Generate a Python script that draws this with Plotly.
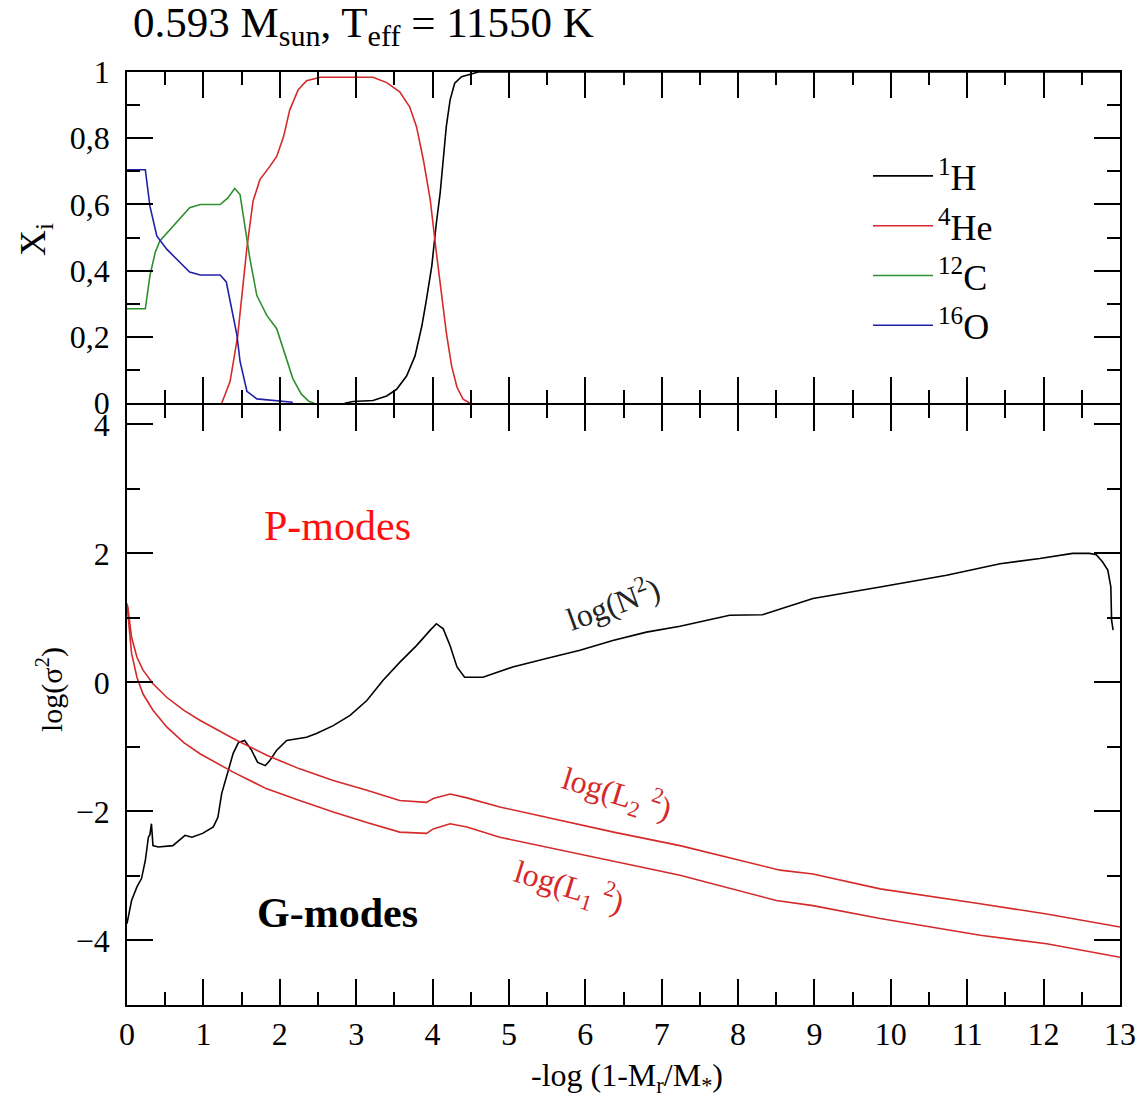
import plotly.graph_objects as go

# ---------------- data (top panel: abundances) ----------------
H_x = [2.85, 2.96, 3.22, 3.40, 3.53, 3.66, 3.77, 3.86, 3.92, 3.99, 4.05, 4.10, 4.14, 4.18, 4.23, 4.29, 4.38, 4.49, 4.6, 13.0]
H_y = [0.0, 0.005, 0.008, 0.022, 0.042, 0.082, 0.142, 0.233, 0.313, 0.414, 0.544, 0.635, 0.735, 0.835, 0.916, 0.966, 0.986, 0.993, 1.0, 1.0]

He_x = [1.24, 1.35, 1.45, 1.52, 1.57, 1.65, 1.74, 1.87, 1.96, 2.05, 2.13, 2.24, 2.35, 2.53, 3.22, 3.40, 3.57, 3.70, 3.79, 3.88, 3.97, 4.05, 4.12, 4.18, 4.25, 4.32, 4.40, 4.49]
He_y = [0.0, 0.066, 0.205, 0.355, 0.47, 0.61, 0.675, 0.715, 0.745, 0.805, 0.885, 0.946, 0.974, 0.984, 0.984, 0.968, 0.94, 0.895, 0.835, 0.735, 0.614, 0.455, 0.334, 0.214, 0.112, 0.048, 0.012, 0.0]

C_x = [0.0, 0.24, 0.30, 0.37, 0.43, 0.60, 0.82, 0.96, 1.22, 1.32, 1.41, 1.48, 1.54, 1.61, 1.70, 1.83, 1.96, 2.07, 2.17, 2.28, 2.38, 2.45]
C_y = [0.285, 0.285, 0.385, 0.456, 0.49, 0.535, 0.59, 0.6, 0.6, 0.62, 0.648, 0.63, 0.535, 0.435, 0.325, 0.265, 0.225, 0.145, 0.075, 0.028, 0.006, 0.0]

O_x = [0.0, 0.24, 0.30, 0.39, 0.52, 0.69, 0.82, 0.96, 1.22, 1.30, 1.39, 1.44, 1.48, 1.57, 1.70, 1.91, 2.17]
O_y = [0.705, 0.705, 0.595, 0.505, 0.465, 0.426, 0.396, 0.387, 0.387, 0.366, 0.255, 0.205, 0.126, 0.036, 0.013, 0.008, 0.003]

# ---------------- data (bottom panel: frequencies) ----------------
N2_x = [0.0, 0.06, 0.13, 0.19, 0.24, 0.26, 0.28, 0.30, 0.32, 0.34, 0.41, 0.60, 0.76, 0.85, 0.99, 1.13, 1.19, 1.24, 1.30,
        1.35, 1.39, 1.46, 1.54, 1.63, 1.71, 1.81, 1.87, 1.96, 2.09, 2.35, 2.48, 2.70, 2.92, 3.14, 3.35, 3.57, 3.79, 3.97,
        4.05, 4.14, 4.23, 4.32, 4.42, 4.66, 5.05, 5.49, 5.93, 6.36, 6.80, 7.24, 7.67, 7.89, 8.32, 8.98, 9.86, 10.73,
        11.43, 11.95, 12.38, 12.60, 12.69, 12.77, 12.84, 12.88, 12.89, 12.91]
N2_y = [-3.74, -3.38, -3.17, -3.04, -2.76, -2.55, -2.40, -2.36, -2.19, -2.53, -2.55, -2.53, -2.37, -2.40, -2.34, -2.24, -2.09,
        -1.72, -1.47, -1.26, -1.10, -0.93, -0.90, -1.05, -1.24, -1.29, -1.21, -1.05, -0.90, -0.85, -0.79, -0.67, -0.51,
        -0.28, 0.03, 0.31, 0.57, 0.81, 0.91, 0.83, 0.57, 0.24, 0.08, 0.08, 0.24, 0.37, 0.50, 0.65, 0.78, 0.87, 0.99,
        1.04, 1.05, 1.30, 1.48, 1.66, 1.84, 1.92, 2.0, 2.0, 1.98, 1.87, 1.74, 1.48, 0.96, 0.81]

L2_x = [0.0, 0.01, 0.06, 0.13, 0.21, 0.34, 0.52, 0.74, 0.96, 1.39, 1.83, 2.26, 2.70, 3.14, 3.57, 3.92, 4.01, 4.23, 4.45,
        4.88, 5.49, 6.37, 7.24, 8.55, 8.98, 9.86, 11.17, 12.04, 13.0]
L2_y = [1.22, 1.17, 0.70, 0.39, 0.19, -0.02, -0.23, -0.43, -0.59, -0.87, -1.13, -1.34, -1.52, -1.67, -1.83, -1.86, -1.80,
        -1.73, -1.79, -1.93, -2.09, -2.32, -2.53, -2.91, -2.97, -3.20, -3.43, -3.59, -3.79]

L1_x = [0.0, 0.01, 0.06, 0.13, 0.21, 0.34, 0.52, 0.74, 0.96, 1.39, 1.83, 2.26, 2.70, 3.14, 3.57, 3.92, 4.01, 4.23, 4.45,
        4.88, 5.49, 6.37, 7.24, 8.50, 8.98, 9.86, 11.17, 12.04, 13.0]
L1_y = [1.22, 1.10, 0.45, 0.08, -0.18, -0.43, -0.69, -0.93, -1.11, -1.39, -1.65, -1.83, -2.01, -2.17, -2.32, -2.34, -2.27,
        -2.19, -2.24, -2.40, -2.55, -2.77, -2.99, -3.38, -3.46, -3.66, -3.92, -4.05, -4.26]

# tick labels
x_ticks = list(range(0, 14))
top_tickvals = [0, 0.2, 0.4, 0.6, 0.8, 1.0]
top_ticktext = ["0", "0,2", "0,4", "0,6", "0,8", "1"]
bot_tickvals = [-4, -2, 0, 2, 4]

species = ["<sup>1</sup>H", "<sup>4</sup>He", "<sup>12</sup>C", "<sup>16</sup>O"]

FONT = "Liberation Serif"
RED = "#d42a2a"
GREEN = "#2f8f2f"
BLUE = "#2020a8"

fig = go.Figure()

top_series = [(H_x, H_y, "black"), (He_x, He_y, RED), (C_x, C_y, GREEN), (O_x, O_y, BLUE)]
for (xs, ys, col), name in zip(top_series, species):
    fig.add_trace(go.Scatter(x=xs, y=ys, mode="lines", name=name, line=dict(color=col, width=1.6),
                             xaxis="x", yaxis="y", showlegend=True))

fig.add_trace(go.Scatter(x=N2_x, y=N2_y, mode="lines", line=dict(color="black", width=1.6),
                         xaxis="x2", yaxis="y2", showlegend=False))
fig.add_trace(go.Scatter(x=L2_x, y=L2_y, mode="lines", line=dict(color=RED, width=1.6),
                         xaxis="x2", yaxis="y2", showlegend=False))
fig.add_trace(go.Scatter(x=L1_x, y=L1_y, mode="lines", line=dict(color=RED, width=1.6),
                         xaxis="x2", yaxis="y2", showlegend=False))

W, Hh = 1144, 1100
LW = 1.8
xdom = [127 / W, 1120 / W]
top_dom = [(Hh - 405 + LW) / Hh, (Hh - 72) / Hh]
bot_dom = [(Hh - 1005) / Hh, (Hh - 405) / Hh]

axis_common = dict(showline=True, linecolor="black", linewidth=LW, mirror="ticks", ticks="inside",
                   ticklen=26, tickwidth=1.6, tickcolor="black", showgrid=False, zeroline=False,
                   tickfont=dict(family=FONT, size=32, color="black"), automargin=False)

fig.update_layout(
    width=W, height=Hh,
    margin=dict(l=0, r=0, t=0, b=0),
    paper_bgcolor="white", plot_bgcolor="white",
    xaxis=dict(domain=xdom, anchor="y", range=[0, 13], tickvals=x_ticks, showticklabels=False,
               minor=dict(dtick=0.5, ticks="inside", ticklen=13, tickwidth=1.6, tickcolor="black"),
               **axis_common),
    yaxis=dict(domain=top_dom, anchor="x", range=[0, 1], tickvals=top_tickvals, ticktext=top_ticktext,
               ticklabelstandoff=9,
               minor=dict(dtick=0.1, ticks="inside", ticklen=13, tickwidth=1.6, tickcolor="black"),
               **axis_common),
    xaxis2=dict(domain=xdom, anchor="y2", range=[0, 13], tickvals=x_ticks, ticklabelstandoff=0,
                minor=dict(dtick=0.5, ticks="inside", ticklen=13, tickwidth=1.6, tickcolor="black"),
                **axis_common),
    yaxis2=dict(domain=bot_dom, anchor="x2", range=[-5, 4.3], tickvals=bot_tickvals, ticklabelstandoff=9,
                minor=dict(dtick=1, ticks="inside", ticklen=13, tickwidth=1.6, tickcolor="black"),
                **axis_common),
    legend=dict(x=868 / W, y=(Hh - 146) / Hh, xanchor="left", yanchor="top",
                font=dict(family=FONT, size=36, color="black"), bgcolor="rgba(0,0,0,0)",
                itemwidth=60, tracegroupgap=0),
    font=dict(family=FONT, color="black"),
)

ann = []
ann.append(dict(text="0.593 M<sub>sun</sub>, T<sub>eff</sub> = 11550 K", xref="paper", yref="paper",
                x=131 / W, y=(Hh - 26) / Hh, xanchor="left", yanchor="middle", showarrow=False,
                font=dict(family=FONT, size=43, color="black")))
ann.append(dict(text="X<sub>i</sub>", xref="paper", yref="paper", x=36 / W, y=(Hh - 240) / Hh,
                xanchor="center", yanchor="middle",
                textangle=-90, showarrow=False, font=dict(family=FONT, size=36, color="black")))
ann.append(dict(text="log(σ<sup>2</sup>)", xref="paper", yref="paper", x=50 / W, y=(Hh - 690) / Hh,
                xanchor="center", yanchor="middle",
                textangle=-90, showarrow=False, font=dict(family=FONT, size=30, color="black")))
ann.append(dict(text="-log (1-M<sub>r</sub>/M<sub>*</sub>)", xref="paper", yref="paper", x=627 / W,
                y=0.0, xanchor="center", yanchor="bottom", showarrow=False,
                font=dict(family=FONT, size=32, color="black")))
ann.append(dict(text="P-modes", xref="x2", yref="y2", x=2.76, y=2.43, showarrow=False,
                xanchor="center", yanchor="middle",
                font=dict(family=FONT, size=42, color="#ff1010")))
ann.append(dict(text="<b>G-modes</b>", xref="x2", yref="y2", x=2.76, y=-3.57, showarrow=False,
                xanchor="center", yanchor="middle",
                font=dict(family=FONT, size=42, color="black")))
ann.append(dict(text="log(N<sup>2</sup>)", xref="x2", yref="y2", x=6.35, y=1.25, showarrow=False,
                xanchor="center", yanchor="middle",
                textangle=-20, font=dict(family=FONT, size=32, color="#222222")))
ann.append(dict(text="log(L<sub>2</sub> <sup>2</sup>)", xref="x2", yref="y2", x=6.42, y=-1.72, showarrow=False,
                xanchor="center", yanchor="middle",
                textangle=17, font=dict(family=FONT, size=32, color=RED)))
ann.append(dict(text="log(L<sub>1</sub> <sup>2</sup>)", xref="x2", yref="y2", x=5.78, y=-3.17, showarrow=False,
                xanchor="center", yanchor="middle",
                textangle=17, font=dict(family=FONT, size=32, color=RED)))
fig.update_layout(annotations=ann)

fig.write_html("out.html")
